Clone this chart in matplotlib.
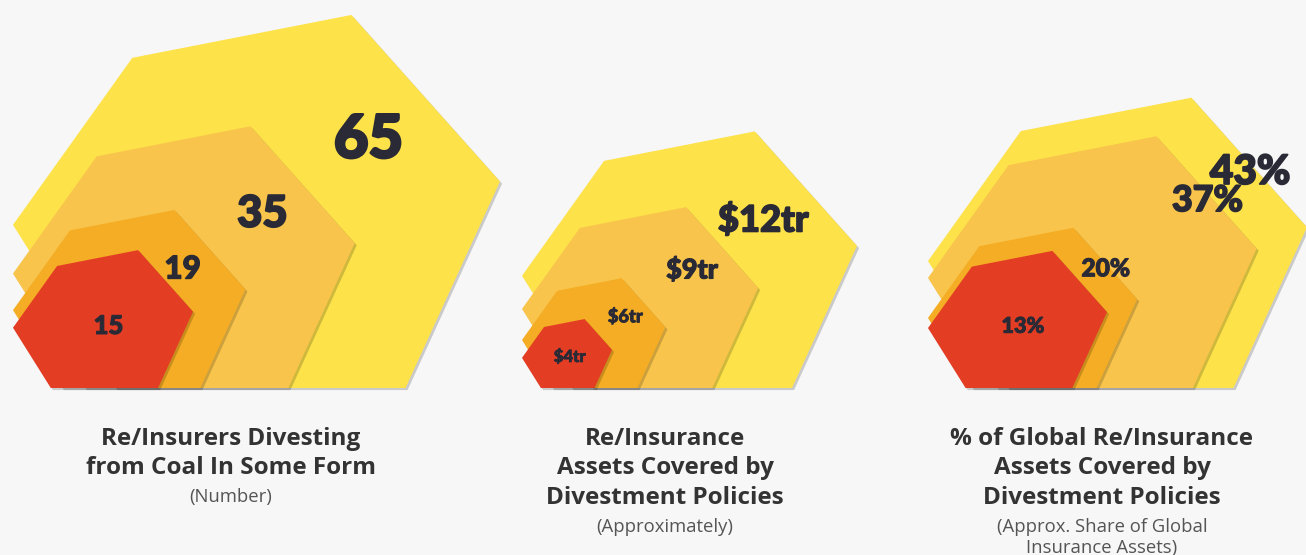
import matplotlib
matplotlib.use("Agg")
import matplotlib.pyplot as plt
import matplotlib.patheffects as pe
from matplotlib.patches import Polygon
from matplotlib.colors import PowerNorm

# ---- data -------------------------------------------------------------
coal_values = [65, 35, 19, 15]
coal_labels = ["65", "35", "19", "15"]

asset_values = [12, 9, 6, 4]          # USD trillions
asset_labels = ["$12tr", "$9tr", "$6tr", "$4tr"]

share_values = [43, 37, 20, 13]       # percent of global insurance assets
share_labels = ["43%", "37%", "20%", "13%"]

titles = [
    ["Re/Insurers Divesting", "from Coal In Some Form"],
    ["Re/Insurance", "Assets Covered by", "Divestment Policies"],
    ["% of Global Re/Insurance", "Assets Covered by", "Divestment Policies"],
]
subtitles = [
    ["(Number)"],
    ["(Approximately)"],
    ["(Approx. Share of Global", "Insurance Assets)"],
]

# ---- style -------------------------------------------------------------
BG = "#F7F7F7"
RING_COLORS = ["#FDE24A", "#F8C44B", "#F4AD24", "#E33D24"]
NUM_COLOR = "#2A2A36"
TITLE_COLOR = "#333333"
SUB_COLOR = "#555555"

# hexagon outline, unit width, anchored at its left end on the baseline
HEX = [(0.21, 0.0), (0.0, 0.335), (0.245, 0.678), (0.695, 0.766),
       (1.0, 0.424), (0.806, 0.0)]

panels = [
    dict(values=coal_values, labels=coal_labels, x0=13, wrange=(180, 487),
         gamma=0.7, anchor=(0.73, 0.51), tscale=1.0, tx=231, sx=231),
    dict(values=asset_values, labels=asset_labels, x0=522, wrange=(90, 335),
         gamma=1.1, anchor=(0.72, 0.50), tscale=0.85, tx=665, sx=665),
    dict(values=share_values, labels=share_labels, x0=928, wrange=(179, 379),
         gamma=1.3, anchor=(0.85, 0.57), tscale=0.85, tx=1102, sx=1102),
]
BASE = 388

W, H = 1306, 555
fig = plt.figure(figsize=(W / 100, H / 100), dpi=100, facecolor=BG)
ax = fig.add_axes([0, 0, 1, 1])
ax.set_xlim(0, W)
ax.set_ylim(H, 0)
ax.set_facecolor(BG)
ax.axis("off")

shadow = [pe.SimplePatchShadow(offset=(1.5, -1.5), shadow_rgbFace="k",
                               alpha=0.18), pe.Normal()]

for p, title, sub in zip(panels, titles, subtitles):
    vals = p["values"]
    norm = PowerNorm(p["gamma"], vmin=min(vals), vmax=max(vals))
    wmin, wmax = p["wrange"]
    order = sorted(range(len(vals)), key=lambda i: -vals[i])
    for rank, i in enumerate(order):
        w = wmin + (wmax - wmin) * float(norm(vals[i]))
        pts = [(p["x0"] + u * w, BASE - v * w) for u, v in HEX]
        poly = Polygon(pts, closed=True, facecolor=RING_COLORS[rank],
                       edgecolor="none", zorder=2 + rank)
        poly.set_path_effects(shadow)
        ax.add_patch(poly)

        if rank == len(vals) - 1:
            ux, uy = 0.53, 0.345
        else:
            ux, uy = p["anchor"]
        fs = max(12, (4 + 0.08 * w) * p["tscale"])
        ax.text(p["x0"] + ux * w, BASE - uy * w, p["labels"][i],
                ha="center", va="center", fontsize=fs, color=NUM_COLOR,
                family="Lato", fontweight="black", zorder=20,
                path_effects=[pe.withStroke(linewidth=fs * 0.045,
                                            foreground=NUM_COLOR)])

    # caption under the hexagons
    y = 445
    for line in title:
        ax.text(p["tx"], y, line, ha="center", va="baseline", fontsize=17.5,
                family="Open Sans", fontweight="bold", color=TITLE_COLOR)
        y += 29.5
    y -= 2
    for line in sub:
        ax.text(p["sx"], y, line, ha="center", va="baseline", fontsize=13.3,
                family="Open Sans", color=SUB_COLOR)
        y += 22

fig.savefig("out.png", dpi=100, facecolor=BG)
